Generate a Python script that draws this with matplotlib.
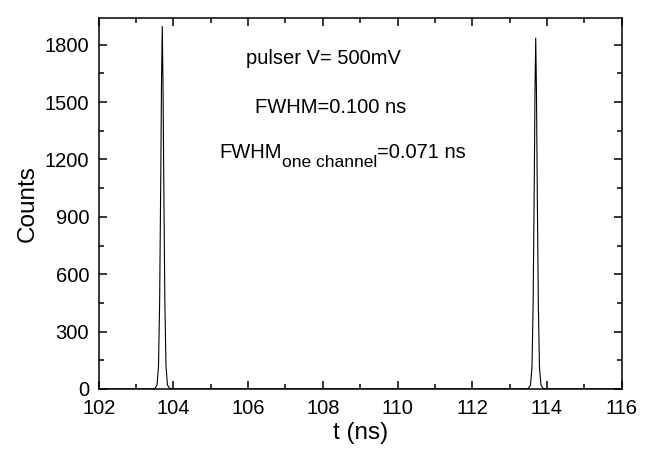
import matplotlib
matplotlib.use("Agg")
import matplotlib.pyplot as plt
from matplotlib.ticker import MultipleLocator
from matplotlib.transforms import offset_copy

plt.rcParams["font.family"] = ["Liberation Sans", "DejaVu Sans"]

# pulser time spectrum (t in ns, counts)
t = [102.0, 103.40, 103.50, 103.56, 103.60, 103.63, 103.66, 103.68, 103.70,
     103.72, 103.74, 103.77, 103.80, 103.84, 103.90, 104.0,
     113.40, 113.50, 113.56, 113.60, 113.63, 113.66, 113.68, 113.70,
     113.72, 113.74, 113.77, 113.80, 113.84, 113.90, 114.0, 116.0]
counts = [0, 0, 2, 20, 120, 450, 1100, 1600, 1896,
          1600, 1100, 450, 120, 20, 2, 0,
          0, 2, 20, 115, 440, 1060, 1550, 1835,
          1550, 1060, 440, 115, 20, 2, 0, 0]

fig = plt.figure(figsize=(6.54, 4.57), dpi=100)
ax = fig.add_axes([0.151, 0.149, 0.7995, 0.8116])
ax.plot(t, counts, color="black", lw=0.8)

ax.set_xlim(102, 116)
ax.set_ylim(0, 1940)
ax.xaxis.set_major_locator(MultipleLocator(2))
ax.xaxis.set_minor_locator(MultipleLocator(1))
ax.yaxis.set_major_locator(MultipleLocator(300))
ax.yaxis.set_minor_locator(MultipleLocator(150))
ax.tick_params(which="both", direction="in", top=True, right=True,
               labelsize=14.5, width=1.1, pad=7)
ax.tick_params(which="major", length=6)
ax.tick_params(which="minor", length=3.5)
for s in ax.spines.values():
    s.set_linewidth(1.1)

ax.set_xlabel("t (ns)", fontsize=17.5, labelpad=3)
ax.set_ylabel("Counts", fontsize=17.5, labelpad=4)

ax.text(0.429, 0.892, "pulser V= 500mV", transform=ax.transAxes,
        ha="center", va="center", fontsize=14.5)
ax.text(0.443, 0.760, "FWHM=0.100 ns", transform=ax.transAxes,
        ha="center", va="center", fontsize=14.5)

# FWHM with a larger-than-mathtext subscript, built from three pieces
fig.canvas.draw()
r = fig.canvas.get_renderer()
t1 = ax.text(0.230, 0.623, "FWHM", transform=ax.transAxes,
             ha="left", va="baseline", fontsize=14.5)
w1 = t1.get_window_extent(r).width * 72 / fig.dpi
t2 = ax.text(0.230, 0.623, "one channel", fontsize=12.5, ha="left",
             va="baseline",
             transform=offset_copy(ax.transAxes, fig, x=w1, y=-6.5,
                                   units="points"))
w2 = t2.get_window_extent(r).width * 72 / fig.dpi
ax.text(0.230, 0.623, "=0.071 ns", fontsize=14.5, ha="left", va="baseline",
        transform=offset_copy(ax.transAxes, fig, x=w1 + w2, units="points"))

fig.savefig("out.png", dpi=100)
